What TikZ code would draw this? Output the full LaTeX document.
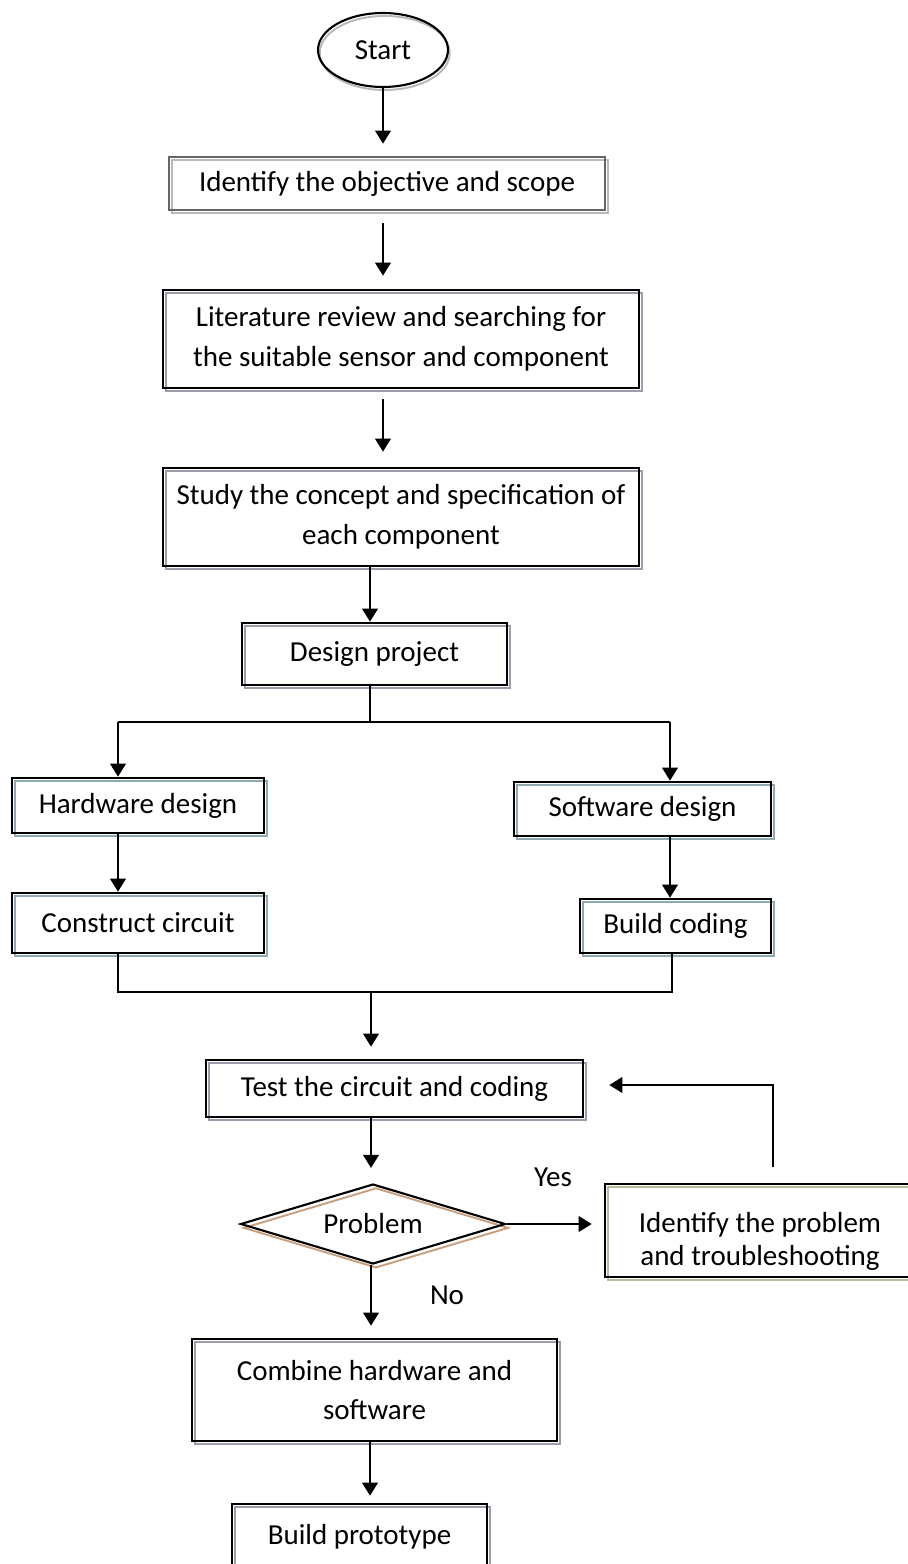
\documentclass[tikz,border=0pt]{standalone}
\usepackage{fontspec}
\setmainfont{Carlito}
\usetikzlibrary{shapes.geometric,arrows.meta,shadows}
\definecolor{shgrey}{HTML}{A09AAB}
\definecolor{shblue}{HTML}{8FAAB3}
\definecolor{sholive}{HTML}{B5BB9C}
\definecolor{shtan}{HTML}{C8A07E}
\definecolor{shlight}{HTML}{B8B8B8}
\tikzset{
  every node/.style={font=\fontsize{16.5pt}{22.7pt}\selectfont, inner sep=0pt},
  stepbox/.style={draw, line width=1.5pt, align=center,
    general shadow={shadow xshift=1.7pt, shadow yshift=-1.7pt, draw=#1, line width=1.1pt, fill=none}},
  stepbox/.default=shgrey,
  startnode/.style={shape=ellipse, draw, line width=1.2pt,
    general shadow={shadow xshift=1pt, shadow yshift=-1.7pt, draw=shlight, line width=1.1pt, fill=none}},
  decision/.style={shape=diamond, shape aspect=3.3, draw, line width=1.2pt,
    general shadow={shadow xshift=1.7pt, shadow yshift=-2.2pt, draw=shtan, line width=1.1pt, fill=none}},
  arr/.style={line width=1pt, -{Triangle[length=7.5pt,width=9pt]}},
  link/.style={line width=0.7pt}
}
\begin{document}
\begin{tikzpicture}[x=0.02cm, y=-0.02cm]
    \useasboundingbox (0,0) rectangle (907,1564);
    \node[startnode, minimum width=2.6cm, minimum height=1.48cm] (start) at (383,50) {Start};
    \node[stepbox=shlight, draw=black!60, minimum width=8.72cm, minimum height=1.06cm] (obj) at (387,183.5) {Identify the objective and scope};
    \node[stepbox, minimum width=9.52cm, minimum height=1.96cm] (lit) at (401,339) {Literature review and searching for\\the suitable sensor and component};
    \node[stepbox, minimum width=9.52cm, minimum height=1.96cm] (study) at (401,517) {Study the concept and specification of\\each component};
    \node[stepbox, minimum width=5.3cm, minimum height=1.24cm] (design) at (374.5,654) {Design project};
    \node[stepbox=shblue, minimum width=5.04cm, minimum height=1.1cm] (hw) at (138,805.5) {Hardware design};
    \node[stepbox=shblue, minimum width=5.14cm, minimum height=1.08cm] (sw) at (642.5,809) {Software design};
    \node[stepbox=shblue, minimum width=5.04cm, minimum height=1.2cm] (cc) at (138,923) {Construct circuit};
    \node[stepbox=shblue, minimum width=3.82cm, minimum height=1.08cm] (bc) at (675.5,926) {Build coding};
    \node[stepbox, minimum width=7.54cm, minimum height=1.14cm] (test) at (394.5,1088.5) {Test the circuit and coding};
    \node[decision, minimum width=5.3cm, minimum height=1.6cm] (prob) at (373,1224) {Problem};
    \node[stepbox=sholive, minimum width=6.2cm, minimum height=1.86cm] (ident) at (760,1230.5) {\rule{0pt}{24pt}Identify the problem\\[-3.5pt]and troubleshooting};
    \node[stepbox, minimum width=7.3cm, minimum height=2.04cm] (comb) at (374.5,1390) {Combine hardware and\\software};
    \node[stepbox, minimum width=5.1cm, minimum height=1.32cm] (proto) at (359.5,1537) {Build prototype};
    \node (yes) at (553,1177) {Yes};
    \node (no) at (447,1295) {No};
    \coordinate (split) at (370,722);
    \coordinate (lcol) at (118,722);
    \coordinate (rcol) at (670,722);
    \coordinate (lmerge) at (118,992);
    \coordinate (rmerge) at (672,992);
    \coordinate (mmerge) at (371,992);
    \coordinate (fb) at (773,1085);
    \draw[arr, shorten >=0.24cm] (start.south) -- (start.south |- obj.north);
    \draw[arr, shorten <=0.24cm, shorten >=0.26cm] (obj.south -| start) -- (lit.north -| start);
    \draw[arr, shorten <=0.2cm, shorten >=0.3cm] (lit.south -| start) -- (study.north -| start);
    \draw[arr] (study.south -| split) -- (design.north -| split);
    \draw[link] (design.south -| split) -- (split);
    \draw[link] (lcol) -- (rcol);
    \draw[arr] (lcol) -- (lcol |- hw.north);
    \draw[arr] (rcol) -- (rcol |- sw.north);
    \draw[arr] (lcol |- hw.south) -- (lcol |- cc.north);
    \draw[arr] (rcol |- sw.south) -- (rcol |- bc.north);
    \draw[link] (lmerge |- cc.south) -- (lmerge) -- (rmerge) -- (rmerge |- bc.south);
    \draw[arr, shorten >=0.24cm] (mmerge) -- (mmerge |- test.north);
    \draw[arr, shorten >=0.3cm] (mmerge |- test.south) -- (mmerge |- prob.north);
    \draw[arr, shorten >=0.24cm] (prob.east) -- (prob.east -| ident.west);
    \draw[arr, shorten <=0.32cm, shorten >=0.5cm] (fb |- ident.north) -- (fb) -- (fb -| test.east);
    \draw[arr, shorten >=0.24cm] (prob.south -| mmerge) -- (comb.north -| mmerge);
    \draw[arr, shorten >=0.14cm] (comb.south -| split) -- (proto.north -| split);
\end{tikzpicture}
\end{document}
